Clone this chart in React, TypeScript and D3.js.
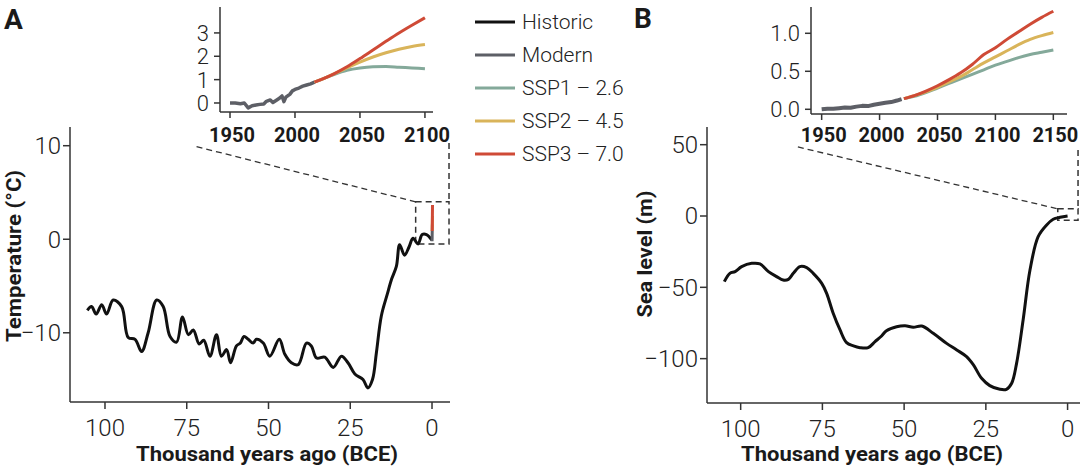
import React from "react";
import * as d3 from "d3";

// ---------- DATA ----------
// Panel A: temperature (°C) vs thousand years ago
const tempKya = [105.4,104.1,102.7,101,99.5,97.5,94.9,92.9,90.8,88.8,86.8,84.2,82.2,80.1,78.1,76.3,74.5,73,71.2,69.8,67.9,65.9,64.4,62.8,61.6,59.8,58.6,57.5,56.2,54.7,53.7,51.6,49.6,46.7,45,43,40.9,38.4,36.9,35.3,32.8,30.2,27.7,25.7,23.6,21.1,19.6,18.2,17,15.5,13.7,12.4,10.9,9.9,8.4,7,5.8,4.3,3,1.7,0];
const tempVal = [-7.6,-7.2,-8.0,-7.0,-8.0,-6.5,-7.2,-10.5,-10.7,-12.0,-10.0,-6.5,-7.2,-10.4,-11.0,-8.3,-10.2,-9.7,-11.2,-10.8,-12.5,-10.2,-12.5,-11.8,-13.2,-11.4,-11.1,-10.4,-10.7,-11.1,-10.7,-11.1,-12.5,-10.7,-12.3,-13.2,-13.4,-11.1,-11.4,-12.7,-12.6,-13.7,-12.5,-13.2,-14.4,-15.0,-15.9,-15.0,-12.1,-8.2,-5.9,-4.3,-2.9,-0.6,-1.7,-0.8,0.1,-0.5,0.5,0.5,-0.1];

// Inset A: modern temperature anomaly and projections
const modernTYears = [1950,1954,1958,1961,1964,1967,1970,1973,1976,1978,1981,1983,1986,1988,1990,1991.5,1993,1996,1998,2000,2003,2006,2009,2012,2015];
const modernTVals = [0.0,0.0,-0.03,0.0,-0.21,-0.12,-0.09,-0.06,-0.04,0.07,0.13,0.02,0.13,0.2,0.3,0.06,0.25,0.37,0.52,0.58,0.64,0.72,0.77,0.82,0.89];
const sspTYears = [2015,2020,2030,2040,2050,2060,2070,2080,2090,2100];
const ssp1T = [0.89,1.0,1.22,1.4,1.5,1.55,1.56,1.53,1.5,1.47];
const ssp2T = [0.89,1.0,1.25,1.5,1.75,1.97,2.15,2.3,2.42,2.5];
const ssp3T = [0.89,1.0,1.25,1.55,1.9,2.27,2.64,3.0,3.33,3.65];

// Panel B: sea level (m) vs thousand years ago
const seaKya = [105,103.3,101.7,99.7,96.6,94.1,91.5,89,87,85.4,83.9,81.9,79.8,77.8,75.2,73.7,71.7,69.6,67.6,65.5,63.5,61,58.9,56.9,55.4,52.3,49.7,47.2,44.6,41.1,37,33.9,30.9,28.8,26.3,23.8,20.7,18.7,17.1,15.6,13.6,11.5,9,6.4,4.4,2.3,0];
const seaVal = [-46,-40.2,-39,-35.5,-33.2,-33.6,-39,-42.5,-44.9,-44.4,-40.2,-35.5,-36.2,-40.2,-47.2,-54.2,-68.2,-79.9,-88.8,-91.1,-92.3,-92.3,-88.1,-84.1,-80.4,-77.6,-76.9,-78,-77.1,-82.2,-89.3,-93.9,-98.6,-104.4,-113.8,-118.9,-121.5,-121.5,-117.3,-103.3,-72.9,-37.9,-14.5,-6.3,-2.3,-0.9,0];

// Inset B: modern sea level and projections
const modernSYears = [1950,1955,1960,1965,1970,1975,1980,1985,1990,1995,2000,2005,2010,2015,2019];
const modernSVals = [0.0,0.008,0.006,0.015,0.022,0.02,0.035,0.045,0.042,0.06,0.072,0.085,0.095,0.115,0.135];
const sspSYears = [2021,2030,2040,2050,2060,2070,2080,2090,2100,2110,2120,2130,2140,2150];
const ssp1S = [0.14,0.17,0.22,0.28,0.34,0.40,0.46,0.52,0.58,0.63,0.68,0.72,0.75,0.78];
const ssp2S = [0.14,0.18,0.23,0.29,0.36,0.43,0.52,0.61,0.69,0.77,0.85,0.92,0.97,1.01];
const ssp3S = [0.14,0.18,0.24,0.31,0.39,0.48,0.59,0.72,0.81,0.92,1.02,1.12,1.21,1.29];

// Ticks & legend
const mainXTicks = [100, 75, 50, 25, 0];
const tempTicks = [10, 0, -10];
const seaTicks = [50, 0, -50, -100];
const insetATicksX = [1950, 2000, 2050, 2100];
const insetATicksY = [0, 1, 2, 3];
const insetBTicksX = [1950, 2000, 2050, 2100, 2150];
const insetBTicksY = [0, 0.5, 1.0];
const legendLabels = ["Historic", "Modern", "SSP1 – 2.6", "SSP2 – 4.5", "SSP3 – 7.0"];
const legendColors = ["#111111", "#5d5f66", "#84a99a", "#d9b45a", "#cf4a36"];

const C_HIST = legendColors[0];
const C_MOD = legendColors[1];
const C_S1 = legendColors[2];
const C_S2 = legendColors[3];
const C_S3 = legendColors[4];

const FONT = "Roboto, 'Liberation Sans', sans-serif";
const AXC = "#333";
const TXT = "#222";

const fmtMinus = (v: number, digits = 0) => {
  const s = Math.abs(v).toFixed(digits);
  return v < 0 ? "\u2212" + s : s;
};

type Pt = [number, number];
const zip = (a: number[], b: number[]): Pt[] => a.map((x, i) => [x, b[i]]);

function App() {
  // Panel A scales
  const xA = d3.scaleLinear().domain([110.7, -5.5]).range([70, 450]);
  const yA = d3.scaleLinear().domain([-17.4, 12.0]).range([402, 127]);
  const xIA = d3.scaleLinear().domain([1942.3, 2106.2]).range([220, 433]);
  const yIA = d3.scaleLinear().domain([-0.386, 4.11]).range([112, 7]);
  // Panel B scales
  const xB = d3.scaleLinear().domain([110.3, -3.8]).range([707, 1080]);
  const yB = d3.scaleLinear().domain([-131.1, 62.4]).range([403, 127]);
  const xIB = d3.scaleLinear().domain([1940.8, 2161.8]).range([811, 1067]);
  const yIB = d3.scaleLinear().domain([-0.062, 1.346]).range([114, 7]);

  const yearToKya = (y: number) => (1950 - y) / 1000;

  const lineA = d3.line<Pt>().x(d => xA(d[0])).y(d => yA(d[1])).curve(d3.curveCatmullRom.alpha(0.5));
  const lineIA = d3.line<Pt>().x(d => xIA(d[0])).y(d => yIA(d[1])).curve(d3.curveMonotoneX);
  const lineB = d3.line<Pt>().x(d => xB(d[0])).y(d => yB(d[1])).curve(d3.curveCatmullRom.alpha(0.5));
  const lineIB = d3.line<Pt>().x(d => xIB(d[0])).y(d => yIB(d[1])).curve(d3.curveMonotoneX);
  const lineIAraw = d3.line<Pt>().x(d => xIA(d[0])).y(d => yIA(d[1]));
  const lineIBraw = d3.line<Pt>().x(d => xIB(d[0])).y(d => yIB(d[1]));

  const tempPts = zip(tempKya, tempVal);
  const seaPts = zip(seaKya, seaVal);

  const tickText = { fontFamily: FONT, fontWeight: 300, fill: TXT } as const;
  const boldText = { fontFamily: FONT, fontWeight: 700, fill: "#1a1a1a" } as const;

  const dash = "6,4";

  const futA = (years: number[], vals: number[]) =>
    d3.line<Pt>().x(d => xA(yearToKya(d[0]))).y(d => yA(d[1]))(zip(years, vals)) || "";

  return (
    <svg width={1080} height={469} style={{ position: "absolute", left: 0, top: 0, background: "#fff" }}>
      {/* ===== Panel labels ===== */}
      <text x={4} y={29} style={{ ...boldText, fontSize: 28 }}>A</text>
      <text x={634} y={28} style={{ ...boldText, fontSize: 28 }}>B</text>

      {/* ===== Panel A main ===== */}
      <g>
        <line x1={70} x2={70} y1={127} y2={402} stroke={AXC} strokeWidth={1.5} />
        <line x1={70} x2={450} y1={402} y2={402} stroke={AXC} strokeWidth={1.5} />
        {mainXTicks.map(t => (
          <g key={"ax" + t}>
            <line x1={xA(t)} x2={xA(t)} y1={402} y2={409} stroke={AXC} strokeWidth={1.5} />
            <text x={xA(t)} y={436} textAnchor="middle" style={{ ...tickText, fontSize: 24 }}>{t}</text>
          </g>
        ))}
        {tempTicks.map(t => (
          <g key={"ay" + t}>
            <line x1={63} x2={70} y1={yA(t)} y2={yA(t)} stroke={AXC} strokeWidth={1.5} />
            <text x={61} y={yA(t)} dy="0.35em" textAnchor="end" style={{ ...tickText, fontSize: 24 }}>{fmtMinus(t)}</text>
          </g>
        ))}
        <text x={267} y={461} textAnchor="middle" textLength={262} lengthAdjust="spacingAndGlyphs" style={{ ...boldText, fontSize: 21 }}>
          Thousand years ago (BCE)
        </text>
        <text transform={`translate(21,256) rotate(-90)`} textAnchor="middle" textLength={172} lengthAdjust="spacingAndGlyphs" style={{ ...boldText, fontSize: 21 }}>
          Temperature (°C)
        </text>
        {/* zoom box + connectors */}
        <rect x={xA(5)} y={yA(4.0)} width={xA(-5.2) - xA(5)} height={yA(-0.5) - yA(4.0)} fill="none" stroke={AXC} strokeWidth={1.5} strokeDasharray={dash} />
        <line x1={xA(72)} y1={yA(9.9)} x2={xA(5)} y2={yA(4.0)} stroke={AXC} strokeWidth={1.3} strokeDasharray={dash} />
        <line x1={xA(-5.2)} y1={yA(10.3)} x2={xA(-5.2)} y2={yA(4.0)} stroke={AXC} strokeWidth={1.5} strokeDasharray={dash} />
        {/* data */}
        <path d={lineA(tempPts) || ""} fill="none" stroke={C_HIST} strokeWidth={3} strokeLinejoin="round" />
        <path d={futA(modernTYears, modernTVals)} fill="none" stroke={C_MOD} strokeWidth={3} />
        <path d={futA(sspTYears, ssp1T)} fill="none" stroke={C_S1} strokeWidth={3} />
        <path d={futA(sspTYears, ssp2T)} fill="none" stroke={C_S2} strokeWidth={3} />
        <path d={futA(sspTYears, ssp3T)} fill="none" stroke={C_S3} strokeWidth={3} />
      </g>

      {/* ===== Inset A ===== */}
      <g>
        <line x1={220} x2={220} y1={7} y2={112} stroke={AXC} strokeWidth={1.5} />
        <line x1={220} x2={433} y1={112} y2={112} stroke={AXC} strokeWidth={1.5} />
        {insetATicksX.map(t => (
          <g key={"iax" + t}>
            <line x1={xIA(t)} x2={xIA(t)} y1={112} y2={118} stroke={AXC} strokeWidth={1.5} />
            <text x={xIA(t) + 2} y={142} textAnchor="middle" style={{ ...boldText, fontSize: 20 }}>{t}</text>
          </g>
        ))}
        {insetATicksY.map(t => (
          <g key={"iay" + t}>
            <line x1={214} x2={220} y1={yIA(t)} y2={yIA(t)} stroke={AXC} strokeWidth={1.5} />
            <text x={209} y={yIA(t)} dy="0.36em" textAnchor="end" style={{ ...tickText, fontSize: 22 }}>{t}</text>
          </g>
        ))}
        <path d={lineIAraw(zip(modernTYears, modernTVals)) || ""} fill="none" stroke={C_MOD} strokeWidth={3.5} strokeLinejoin="round" />
        <path d={lineIA(zip(sspTYears, ssp1T)) || ""} fill="none" stroke={C_S1} strokeWidth={3} />
        <path d={lineIA(zip(sspTYears, ssp2T)) || ""} fill="none" stroke={C_S2} strokeWidth={3} />
        <path d={lineIA(zip(sspTYears, ssp3T)) || ""} fill="none" stroke={C_S3} strokeWidth={3} />
      </g>

      {/* ===== Legend ===== */}
      <g>
        {legendLabels.map((lab, i) => (
          <g key={lab} transform={`translate(0, ${22 + i * 33})`}>
            <line x1={475} x2={515} y1={0} y2={0} stroke={legendColors[i]} strokeWidth={3} />
            <text x={522} y={0} dy="0.35em" style={{ ...tickText, fontSize: 21 }}>{lab}</text>
          </g>
        ))}
      </g>

      {/* ===== Panel B main ===== */}
      <g>
        <line x1={707} x2={707} y1={127} y2={403} stroke={AXC} strokeWidth={1.5} />
        <line x1={707} x2={1080} y1={403} y2={403} stroke={AXC} strokeWidth={1.5} />
        {mainXTicks.map(t => (
          <g key={"bx" + t}>
            <line x1={xB(t)} x2={xB(t)} y1={403} y2={410} stroke={AXC} strokeWidth={1.5} />
            <text x={xB(t)} y={437} textAnchor="middle" style={{ ...tickText, fontSize: 24 }}>{t}</text>
          </g>
        ))}
        {seaTicks.map(t => (
          <g key={"by" + t}>
            <line x1={700} x2={707} y1={yB(t)} y2={yB(t)} stroke={AXC} strokeWidth={1.5} />
            <text x={698} y={yB(t)} dy="0.35em" textAnchor="end" style={{ ...tickText, fontSize: 24 }}>{fmtMinus(t)}</text>
          </g>
        ))}
        <text x={872} y={461} textAnchor="middle" textLength={262} lengthAdjust="spacingAndGlyphs" style={{ ...boldText, fontSize: 21 }}>
          Thousand years ago (BCE)
        </text>
        <text transform={`translate(652,254) rotate(-90)`} textAnchor="middle" textLength={127} lengthAdjust="spacingAndGlyphs" style={{ ...boldText, fontSize: 21 }}>
          Sea level (m)
        </text>
        <rect x={xB(3)} y={yB(5)} width={xB(-3.2) - xB(3)} height={yB(-3) - yB(5)} fill="none" stroke={AXC} strokeWidth={1.5} strokeDasharray={dash} />
        <line x1={xB(82.5)} y1={yB(48.4)} x2={xB(3)} y2={yB(5)} stroke={AXC} strokeWidth={1.3} strokeDasharray={dash} />
        <line x1={xB(-3.2)} y1={yB(46.3)} x2={xB(-3.2)} y2={yB(5)} stroke={AXC} strokeWidth={1.5} strokeDasharray={dash} />
        <path d={lineB(seaPts) || ""} fill="none" stroke={C_HIST} strokeWidth={3} strokeLinejoin="round" />
      </g>

      {/* ===== Inset B ===== */}
      <g>
        <line x1={811} x2={811} y1={7} y2={114} stroke={AXC} strokeWidth={1.5} />
        <line x1={811} x2={1067} y1={114} y2={114} stroke={AXC} strokeWidth={1.5} />
        {insetBTicksX.map(t => (
          <g key={"ibx" + t}>
            <line x1={xIB(t)} x2={xIB(t)} y1={114} y2={120} stroke={AXC} strokeWidth={1.5} />
            <text x={xIB(t) + 2} y={142} textAnchor="middle" style={{ ...boldText, fontSize: 20 }}>{t}</text>
          </g>
        ))}
        {insetBTicksY.map(t => (
          <g key={"iby" + t}>
            <line x1={805} x2={811} y1={yIB(t)} y2={yIB(t)} stroke={AXC} strokeWidth={1.5} />
            <text x={800} y={yIB(t)} dy="0.36em" textAnchor="end" style={{ ...tickText, fontSize: 22 }}>{t.toFixed(1)}</text>
          </g>
        ))}
        <path d={lineIBraw(zip(modernSYears, modernSVals)) || ""} fill="none" stroke={C_MOD} strokeWidth={4} strokeLinejoin="round" />
        <path d={lineIB(zip(sspSYears, ssp1S)) || ""} fill="none" stroke={C_S1} strokeWidth={3} />
        <path d={lineIB(zip(sspSYears, ssp2S)) || ""} fill="none" stroke={C_S2} strokeWidth={3} />
        <path d={lineIB(zip(sspSYears, ssp3S)) || ""} fill="none" stroke={C_S3} strokeWidth={3} />
      </g>
    </svg>
  );
}

export default App;
